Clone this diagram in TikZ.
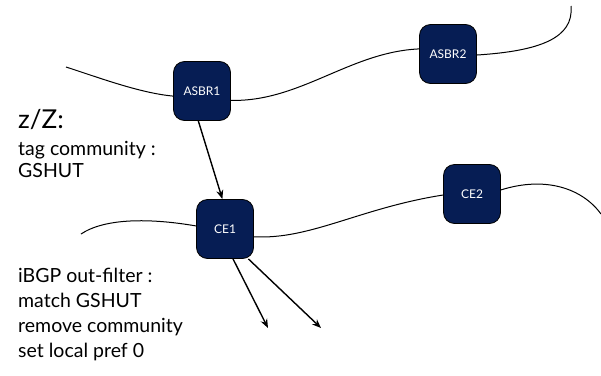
\documentclass[tikz,border=0pt]{standalone}
\usepackage{fontspec}
\setmainfont{Lato}
\usetikzlibrary{arrows.meta}
\definecolor{routerblue}{RGB}{6,29,84}
\tikzset{
  router/.style={draw=black, line width=0.8pt, fill=routerblue, rounded corners=11pt,
    minimum width=57pt, minimum height=59pt, inner sep=0pt,
    text=white, font=\fontsize{12}{14}\selectfont},
  link/.style={line width=1pt},
  flow/.style={line width=1.4pt, -{Stealth[length=9pt,width=7pt]}},
  note/.style={anchor=base west, inner sep=0pt, font=\fontsize{19.5}{22}\selectfont},
  bignote/.style={anchor=base west, inner sep=0pt, font=\fontsize{26}{30}\selectfont}
}
\begin{document}
\begin{tikzpicture}[x=1pt,y=-1pt]
\useasboundingbox (0,0) rectangle (601,375);

% routers
\node[router] (asbr1) at (202,91) {ASBR1};
\node[router] (asbr2) at (448,54) {ASBR2};
\node[router] (ce1) at (225,229) {CE1};
\node[router] (ce2) at (472,194) {CE2};

% loose ends of the links
\coordinate (l1) at (66,67);
\coordinate (r1) at (571,6);
\coordinate (l2) at (81,234);
\coordinate (r2) at (601,214);
\coordinate (d1) at (268,328);
\coordinate (d2) at (321,328);

% upper links
\draw[link] (l1) .. controls (100,78) and (140,93) .. (asbr1.190);
\draw[link] (asbr1.-18) .. controls (300,102) and (350,52) .. (asbr2.170);
\draw[link] (asbr2.-2) .. controls (540,51) and (574,38) .. (r1);

% lower links
\draw[link] (l2) .. controls (105,218) and (150,218) .. (ce1.174);
\draw[link] (ce1.-15) .. controls (310,240) and (360,208) .. (ce2.182);
\draw[link] (ce2.8) .. controls (545,176) and (582,188) .. (r2);

% route propagation
\draw[flow] (asbr1.263) -- (ce1.95);
\draw[flow] (ce1.285) -- (d1);
\draw[flow] (ce1.308) -- (d2);

% annotations
\node[bignote] (zz) at (18,128) {z/Z:};
\node[note] (tag1) at (18,155) {tag community :};
\node[note] (tag2) at (18,177) {GSHUT};
\node[note] (f1) at (18,282) {iBGP out-filter :};
\node[note] (f2) at (18,307) {match GSHUT};
\node[note] (f3) at (18,332) {remove community};
\node[note] (f4) at (18,357) {set local pref 0};
\end{tikzpicture}
\end{document}
